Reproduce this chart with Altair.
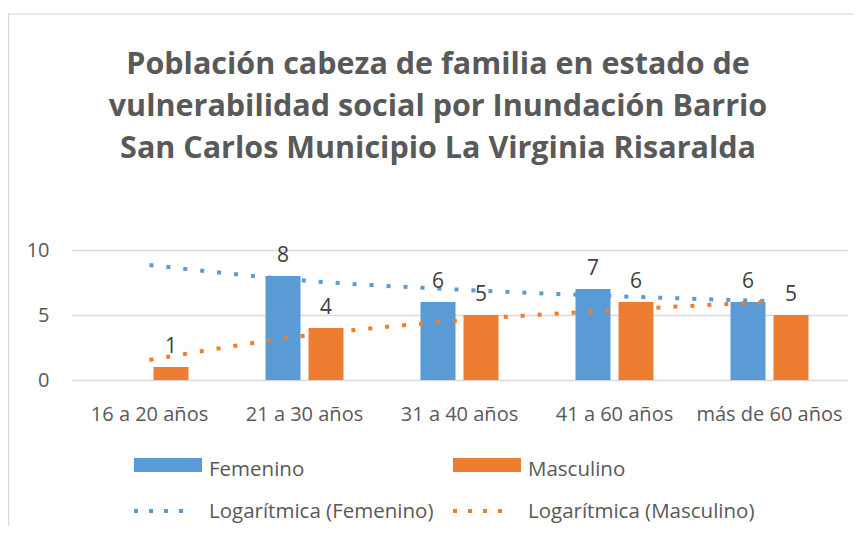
import altair as alt
import pandas as pd

categories = ["16 a 20 años", "21 a 30 años", "31 a 40 años", "41 a 60 años", "más de 60 años"]
femenino = [None, 8, 6, 7, 6]
masculino = [1, 4, 5, 6, 5]
trend_fem = [8.85, 7.65, 6.95, 6.45, 6.07]
trend_masc = [1.54, 3.40, 4.58, 5.38, 6.00]
series = ["Femenino", "Masculino"]
colors = ["#5B9BD5", "#ED7D31"]
title_lines = [
    "Población cabeza de familia en estado de",
    "vulnerabilidad social por Inundación Barrio",
    "San Carlos Municipio La Virginia Risaralda",
]
legend_labels = ["Femenino", "Masculino", "Logarítmica (Femenino)", "Logarítmica (Masculino)"]

FONT = "Open Sans"
GRAY = "#595959"

rows = []
for c, f, m in zip(categories, femenino, masculino):
    if f is not None:
        rows.append({"cat": c, "serie": "Femenino", "valor": f})
    if m is not None:
        rows.append({"cat": c, "serie": "Masculino", "valor": m})
bars_df = pd.DataFrame(rows)

trows = []
for c, f, m in zip(categories, trend_fem, trend_masc):
    trows.append({"cat": c, "serie": "Femenino", "valor": f})
    trows.append({"cat": c, "serie": "Masculino", "valor": m})
trend_df = pd.DataFrame(trows)

xscale = alt.Scale(domain=categories, paddingInner=0.4968, paddingOuter=0.2484)
xoff = alt.XOffset("serie:N", scale=alt.Scale(domain=series, paddingInner=0.186, paddingOuter=0))
yscale = alt.Scale(domain=[0, 10], nice=False)
cscale = alt.Scale(domain=series, range=colors)

x_enc = alt.X("cat:N", scale=xscale, sort=categories,
              axis=alt.Axis(title=None, domain=False, ticks=False, labelAngle=0,
                            labelFontSize=20, labelColor=GRAY, labelFont=FONT, labelPadding=24))
y_enc = alt.Y("valor:Q", scale=yscale,
              axis=alt.Axis(title=None, values=[0, 5, 10], domain=False, ticks=False,
                            grid=True, gridColor="#d9d9d9", gridWidth=1.5,
                            labelFontSize=20, labelColor=GRAY, labelFont=FONT, labelPadding=23))

bars = alt.Chart(bars_df).mark_bar().encode(
    x=x_enc, xOffset=xoff, y=y_enc,
    color=alt.Color("serie:N", scale=cscale, legend=None),
)

labels = alt.Chart(bars_df).mark_text(
    dy=-14, baseline="alphabetic", fontSize=21, font=FONT, color="#404040"
).encode(
    x=alt.X("cat:N", scale=xscale, sort=categories), xOffset=xoff,
    y=alt.Y("valor:Q", scale=yscale), text="valor:Q",
)

trend = alt.Chart(trend_df).mark_line(
    strokeDash=[4, 13], strokeWidth=4, interpolate="monotone", strokeCap="butt"
).encode(
    x=alt.X("cat:N", scale=xscale, sort=categories),
    y=alt.Y("valor:Q", scale=yscale),
    color=alt.Color("serie:N", scale=cscale, legend=None),
    detail="serie:N",
)

one = pd.DataFrame({"k": [0]})

# chart border (top and left edges visible)
border = alt.Chart(one).mark_rect(fillOpacity=0, stroke="#d9d9d9", strokeWidth=1.2).encode(
    x=alt.value(-63.5), x2=alt.value(820), y=alt.value(-236), y2=alt.value(300)
)

title_layers = []
for i, line in enumerate(title_lines):
    title_layers.append(
        alt.Chart(pd.DataFrame({"t": [line]})).mark_text(
            fontSize=30.5, fontWeight="bold", font=FONT, color=GRAY,
            align="center", baseline="alphabetic"
        ).encode(x=alt.value(366), y=alt.value(-176 + 42 * i), text="t:N")
    )

leg = []
# row 1: bar swatches
leg.append(alt.Chart(one).mark_rect(color=colors[0]).encode(
    x=alt.value(62), x2=alt.value(130), y=alt.value(208), y2=alt.value(222)))
leg.append(alt.Chart(one).mark_rect(color=colors[1]).encode(
    x=alt.value(381), x2=alt.value(449), y=alt.value(208), y2=alt.value(222)))
# row 2: dotted swatches
leg.append(alt.Chart(one).mark_rule(color=colors[0], strokeWidth=4, strokeDash=[4, 11]).encode(
    x=alt.value(62), x2=alt.value(111), y=alt.value(261)))
leg.append(alt.Chart(one).mark_rule(color=colors[1], strokeWidth=4, strokeDash=[4, 11]).encode(
    x=alt.value(381), x2=alt.value(430), y=alt.value(261)))
text_pos = [(137, 226), (456, 226), (137, 268), (456, 268)]
for lab, (px, py) in zip(legend_labels, text_pos):
    leg.append(alt.Chart(pd.DataFrame({"t": [lab]})).mark_text(
        fontSize=20.5, font=FONT, color=GRAY, align="left", baseline="alphabetic"
    ).encode(x=alt.value(px), y=alt.value(py), text="t:N"))

chart = alt.layer(border, bars, trend, labels, *title_layers, *leg).properties(
    width=775, height=130,
    autosize=alt.AutoSizeParams(type="none"),
    padding={"left": 64, "top": 242, "right": 7, "bottom": 146},
    background="white",
).configure_view(stroke=None)

chart.save("out.html", embed_options={"renderer": "svg", "actions": False})
